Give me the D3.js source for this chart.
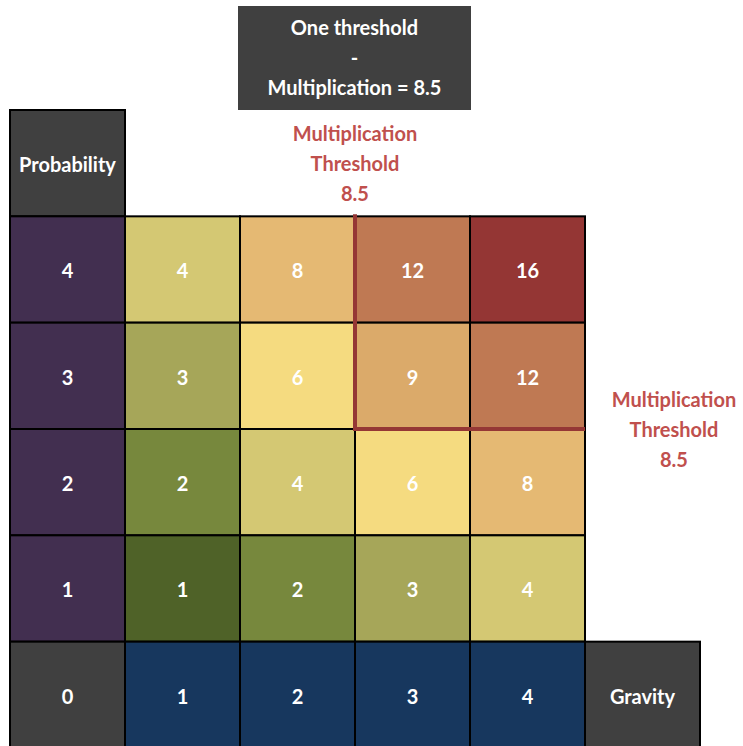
<!DOCTYPE html>
<html>
<head>
<meta charset="utf-8">
<script src="https://cdn.jsdelivr.net/npm/d3@7"></script>
<style>
  body { margin: 0; background: #fff; }
  text { font-family: Lato, "Open Sans", sans-serif; font-weight: bold; }
</style>
</head>
<body>
<svg></svg>
<script>
const width = 743;
const height = 746;
const svg = d3.select("svg").attr("width", width).attr("height", height);

// data
const probabilities = [4, 3, 2, 1];
const gravities = [1, 2, 3, 4];
const threshold = 8.5;
const titleLines = ["One threshold", "-", "Multiplication = " + threshold];
const thresholdLines = ["Multiplication", "Threshold", String(threshold)];
const productValues = [1, 2, 3, 4, 6, 8, 9, 12, 16];
const productColors = ["#4f6228", "#77883d", "#a6a659", "#d4c873", "#f5db80", "#e5b973", "#dbaa6a", "#bf7953", "#943634"];

const fs = 20;
const x = d3.scaleBand().domain(["P", ...gravities, "G"]).range([10, 700]);
const y = d3.scaleBand().domain(["H", ...probabilities, 0]).range([110, 748]);
const color = d3.scaleOrdinal().domain(productValues).range(productColors);

const cells = [];
probabilities.forEach(p => gravities.forEach(g => cells.push({p, g, v: p * g})));

const bw = x.bandwidth(), bh = y.bandwidth();

// product cells
const cell = svg.append("g").selectAll("g").data(cells).join("g")
  .attr("transform", d => `translate(${x(d.g)},${y(d.p)})`);
cell.append("rect").attr("width", bw).attr("height", bh)
  .attr("fill", d => color(d.v)).attr("stroke", "#000").attr("stroke-width", 2);
cell.append("text").attr("x", bw / 2).attr("y", bh / 2 + 2).attr("dy", "0.35em")
  .attr("text-anchor", "middle").attr("fill", "#fff").attr("font-size", fs)
  .text(d => d.v);

// axis cells
const headers = [
  {x: "P", y: "H", label: "Probability", fill: "#404040"},
  ...probabilities.map(p => ({x: "P", y: p, label: p, fill: "#422f50"})),
  {x: "P", y: 0, label: "0", fill: "#404040"},
  ...gravities.map(g => ({x: g, y: 0, label: g, fill: "#17375e"})),
  {x: "G", y: 0, label: "Gravity", fill: "#404040"}
];
const head = svg.append("g").selectAll("g").data(headers).join("g")
  .attr("transform", d => `translate(${x(d.x)},${y(d.y)})`);
head.append("rect").attr("width", bw).attr("height", bh)
  .attr("fill", d => d.fill).attr("stroke", "#000").attr("stroke-width", 2);
head.append("text").attr("x", bw / 2).attr("y", bh / 2 + 2).attr("dy", "0.35em")
  .attr("text-anchor", "middle").attr("fill", "#fff").attr("font-size", fs)
  .text(d => d.label);

// title box
svg.append("rect").attr("x", 238).attr("y", 6).attr("width", 233).attr("height", 104)
  .attr("fill", "#404040");
svg.append("g").selectAll("text").data(titleLines).join("text")
  .attr("x", 354.5).attr("y", (d, i) => 28 + i * 30).attr("dy", "0.35em")
  .attr("text-anchor", "middle").attr("fill", "#fff").attr("font-size", fs)
  .text(d => d);

// threshold line around cells with product > threshold
const red = "#953735";
const x3 = x(3), yTop = y(4), yBot = y(2);
svg.append("path")
  .attr("d", `M${x3},${yTop - 2} V${yBot} H${x(4) + bw}`)
  .attr("fill", "none").attr("stroke", red).attr("stroke-width", 4);

// threshold labels
function thresholdLabel(cx, cy) {
  svg.append("g").selectAll("text").data(thresholdLines).join("text")
    .attr("x", cx).attr("y", (d, i) => cy + i * 30).attr("dy", "0.35em")
    .attr("text-anchor", "middle").attr("fill", "#c0504d").attr("font-size", fs)
    .text(d => d);
}
thresholdLabel(x3, 134);
thresholdLabel(674, 400);
</script>
</body>
</html>
